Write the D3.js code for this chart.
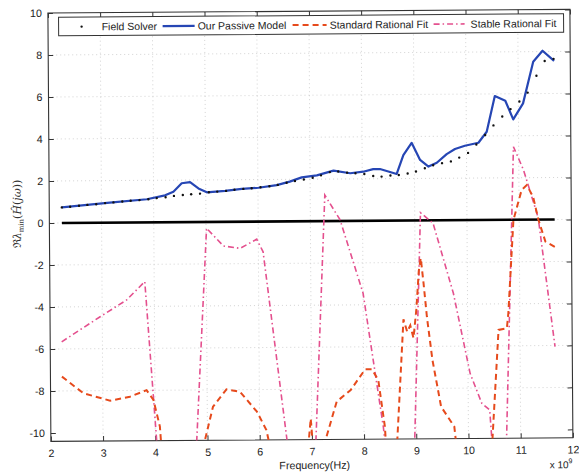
<!DOCTYPE html>
<html>
<head>
<meta charset="utf-8">
<script src="https://cdn.jsdelivr.net/npm/d3@7"></script>
<style>
  html, body { margin: 0; padding: 0; background: #fff; }
  svg { display: block; }
</style>
</head>
<body>
<script>
// ---------------- data ----------------
const xTicks = [2, 3, 4, 5, 6, 7, 8, 9, 10, 11, 12];
const yTicks = [-10, -8, -6, -4, -2, 0, 2, 4, 6, 8, 10];

const legendLabels = ["Field Solver", "Our Passive Model", "Standard Rational Fit", "Stable Rational Fit"];

// Field Solver (dots), frequency in GHz (x 10^9 Hz)
const solverFreq = [2.24, 2.40, 2.57, 2.73, 2.90, 3.07, 3.23, 3.40, 3.56, 3.73, 3.90, 4.06, 4.23, 4.39, 4.56,
  4.72, 4.89, 5.06, 5.22, 5.39, 5.55, 5.72, 5.88, 6.05, 6.22, 6.38, 6.55, 6.71, 6.88, 7.05, 7.21, 7.38, 7.54,
  7.71, 7.87, 8.04, 8.21, 8.37, 8.54, 8.70, 8.87, 9.03, 9.20, 9.36, 9.53, 9.70, 9.86, 10.03, 10.19, 10.36,
  10.52, 10.69, 10.85, 11.02, 11.18, 11.35, 11.51, 11.68];
const solverVal = [0.74, 0.77, 0.81, 0.85, 0.88, 0.93, 0.96, 1.00, 1.03, 1.06, 1.10, 1.15, 1.19, 1.25, 1.29,
  1.32, 1.35, 1.41, 1.44, 1.47, 1.52, 1.56, 1.59, 1.63, 1.68, 1.74, 1.84, 1.92, 1.99, 2.07, 2.18, 2.33, 2.36,
  2.30, 2.27, 2.23, 2.13, 2.10, 2.15, 2.17, 2.24, 2.33, 2.48, 2.62, 2.72, 2.80, 2.98, 3.20, 3.60, 4.05,
  4.50, 4.92, 5.27, 5.63, 6.05, 6.85, 7.55, 7.65];

// Our Passive Model (solid blue)
const modelFreq = [2.24, 3.16, 3.87, 4.22, 4.38, 4.54, 4.70, 4.86, 5.02, 5.37, 5.69, 6.01, 6.36, 6.61, 6.84,
  7.13, 7.45, 7.77, 8.02, 8.21, 8.34, 8.66, 8.79, 8.95, 9.11, 9.27, 9.43, 9.62, 9.78, 9.97, 10.23, 10.39,
  10.55, 10.75, 10.90, 11.09, 11.29, 11.47, 11.69];
const modelVal = [0.74, 0.95, 1.10, 1.28, 1.45, 1.85, 1.90, 1.60, 1.41, 1.47, 1.56, 1.61, 1.73, 1.89, 2.09,
  2.18, 2.40, 2.27, 2.34, 2.46, 2.46, 2.22, 3.12, 3.70, 2.88, 2.56, 2.74, 3.15, 3.39, 3.54, 3.68, 4.20,
  5.90, 5.67, 4.78, 5.54, 7.52, 8.04, 7.55];

// Standard Rational Fit (dashed orange) - values below the axis are clipped
const stdFreq = [2.22, 2.63, 3.14, 3.52, 3.84, 3.97, 4.09, 4.15, 4.87, 5.11, 5.37, 5.63, 5.95, 6.13, 6.22,
  6.92, 6.98, 7.06, 7.24, 7.28, 7.48, 7.75, 8.03, 8.16, 8.28, 8.40, 8.45, 8.60, 8.77, 8.84, 8.90, 8.96,
  9.02, 9.07, 9.11, 9.16, 9.22, 9.32, 9.48, 9.73, 9.82, 10.42, 10.59, 10.75, 10.78, 10.89, 11.05, 11.15,
  11.27, 11.37, 11.50, 11.69];
const stdVal = [-7.32, -8.12, -8.48, -8.30, -7.99, -8.46, -9.73, -12, -11.2, -8.80, -7.98, -8.10, -9.05, -9.93, -11,
  -11, -9.4, -12, -12, -10.27, -8.60, -8.05, -7.07, -7.07, -7.59, -9.81, -12, -12, -4.7, -5.3, -5.0, -5.6,
  -4.2, -2.4, -1.8, -3.0, -4.6, -6.65, -8.88, -9.83, -12, -12, -5.24, -5.17, -4.45, -0.01, 1.41, 1.65,
  1.09, -0.02, -1.05, -1.32];

// Stable Rational Fit (dash-dot pink) - values below the axis are clipped
const stableFreq = [2.22, 2.96, 3.47, 3.82, 4.07, 4.76, 5.01, 5.33, 5.65, 5.97, 6.09, 6.60, 7.05, 7.28, 7.57,
  8.00, 8.37, 8.46, 8.95, 9.11, 9.35, 9.73, 10.04, 10.26, 10.41, 10.49, 10.71, 10.90, 11.09, 11.34, 11.37, 11.67];
const stableVal = [-5.66, -4.48, -3.69, -2.82, -12, -12, -0.30, -1.15, -1.27, -0.84, -1.44, -12, -12, 1.24, 0.05,
  -3.45, -9.81, -12, -12, 0.37, -0.14, -3.48, -7.30, -8.73, -9.05, -12, -12, 3.48, 2.37, 0.30, -0.02, -6.05];

// ---------------- drawing ----------------
const W = 579, H = 472;
const L = 49.4, R = 571.4, T = 11.2, B = 439.6;
const FONT = "'Liberation Sans', Arial, Helvetica, sans-serif";

const svg = d3.select("body").append("svg").attr("width", W).attr("height", H);
svg.append("rect").attr("width", W).attr("height", H).attr("fill", "#fff");
const g = svg.append("g").attr("transform", "rotate(-0.4 310.4 225.4)");

const x = d3.scaleLinear().domain([2, 12]).range([L, R]);
const y = d3.scaleLinear().domain([-10.4, 10]).range([B, T]);

// grid
const grid = g.append("g").attr("stroke", "#c8c8c8").attr("stroke-width", 0.8).attr("stroke-dasharray", "1,3");
grid.selectAll("line.vx").data(xTicks.slice(1, -1)).join("line")
  .attr("x1", d => x(d)).attr("x2", d => x(d)).attr("y1", T).attr("y2", B);
grid.selectAll("line.hy").data(yTicks.slice(1, -1)).join("line")
  .attr("x1", L).attr("x2", R).attr("y1", d => y(d)).attr("y2", d => y(d));

// axes
function styleAxis(sel) {
  sel.select(".domain").remove();
  sel.selectAll(".tick line").attr("stroke", "#333");
  sel.selectAll("text").attr("font-family", FONT).attr("font-size", 10.7).attr("fill", "#222");
}
g.append("g").attr("transform", `translate(0,${B})`)
  .call(d3.axisBottom(x).tickValues(xTicks).tickSizeInner(-5).tickSizeOuter(0).tickPadding(8).tickFormat(d => String(d)))
  .call(styleAxis);
g.append("g").attr("transform", `translate(0,${T})`)
  .call(d3.axisTop(x).tickValues(xTicks).tickSizeInner(-5).tickSizeOuter(0).tickFormat(""))
  .call(styleAxis);
g.append("g").attr("transform", `translate(${L},0)`)
  .call(d3.axisLeft(y).tickValues(yTicks).tickSizeInner(-5).tickSizeOuter(0).tickPadding(6).tickFormat(d => String(d)))
  .call(styleAxis);
g.append("g").attr("transform", `translate(${R},0)`)
  .call(d3.axisRight(y).tickValues(yTicks).tickSizeInner(-5).tickSizeOuter(0).tickFormat(""))
  .call(styleAxis);

// frame
g.append("rect").attr("x", L).attr("y", T).attr("width", R - L).attr("height", B - T)
  .attr("fill", "none").attr("stroke", "#333").attr("stroke-width", 1.1);

// clip
svg.append("defs").append("clipPath").attr("id", "plotclip")
  .append("rect").attr("x", L).attr("y", T).attr("width", R - L).attr("height", B - T);
const plot = g.append("g").attr("clip-path", "url(#plotclip)");

const line = d3.line().x(d => x(d[0])).y(d => y(d[1]));
const zip = (a, b) => a.map((v, i) => [v, b[i]]);

// zero line
plot.append("path").datum([[solverFreq[0], 0], [solverFreq[solverFreq.length - 1], 0]])
  .attr("d", line).attr("stroke", "#000").attr("stroke-width", 2.6).attr("fill", "none");

// stable rational fit (pink dash-dot)
plot.append("path").datum(zip(stableFreq, stableVal)).attr("d", line)
  .attr("fill", "none").attr("stroke", "#e4508e").attr("stroke-width", 1.6)
  .attr("stroke-dasharray", "6,3,1.5,3");

// standard rational fit (orange dashed)
plot.append("path").datum(zip(stdFreq, stdVal)).attr("d", line)
  .attr("fill", "none").attr("stroke", "#e64a1c").attr("stroke-width", 2)
  .attr("stroke-dasharray", "6,4");

// passive model (blue)
plot.append("path").datum(zip(modelFreq, modelVal)).attr("d", line)
  .attr("fill", "none").attr("stroke", "#2646b4").attr("stroke-width", 2.2).attr("stroke-linejoin", "round");

// field solver dots
plot.selectAll("circle.fs").data(zip(solverFreq, solverVal)).join("circle")
  .attr("cx", d => x(d[0])).attr("cy", d => y(d[1])).attr("r", 1.2).attr("fill", "#111");

// legend
const lg = g.append("g");
lg.append("rect").attr("x", 60).attr("y", 15.5).attr("width", 505).attr("height", 18.5)
  .attr("fill", "#fff").attr("stroke", "#333").attr("stroke-width", 1);
const ly = 25;
lg.append("circle").attr("cx", 83).attr("cy", ly).attr("r", 1.2).attr("fill", "#111");
lg.append("line").attr("x1", 164).attr("x2", 196).attr("y1", ly).attr("y2", ly)
  .attr("stroke", "#2646b4").attr("stroke-width", 2.2);
lg.append("line").attr("x1", 294).attr("x2", 328).attr("y1", ly).attr("y2", ly)
  .attr("stroke", "#e64a1c").attr("stroke-width", 2).attr("stroke-dasharray", "6,4");
lg.append("line").attr("x1", 435).attr("x2", 466).attr("y1", ly).attr("y2", ly)
  .attr("stroke", "#e4508e").attr("stroke-width", 1.6).attr("stroke-dasharray", "6,3,1.5,3");
const lx = [103, 199, 331, 472];
lg.selectAll("text").data(legendLabels).join("text")
  .attr("x", (d, i) => lx[i]).attr("y", ly + 3.8)
  .attr("font-family", FONT).attr("font-size", 10.5).attr("fill", "#222").text(d => d);

// x label
g.append("text").attr("x", 313).attr("y", 469).attr("text-anchor", "middle")
  .attr("font-family", FONT).attr("font-size", 10.7).attr("fill", "#222").text("Frequency(Hz)");
const ex = g.append("text").attr("x", 548).attr("y", 470).attr("font-family", FONT)
  .attr("font-size", 10).attr("fill", "#222");
ex.append("tspan").text("x 10");
ex.append("tspan").attr("dy", -5).attr("font-size", 7).text("9");

// y label
const yl = g.append("text").attr("transform", "translate(21,212) rotate(-90)")
  .attr("text-anchor", "middle").attr("font-family", "'DejaVu Serif', serif")
  .attr("font-size", 11).attr("fill", "#333");
yl.append("tspan").text("ℜ");
yl.append("tspan").attr("font-style", "italic").text("λ");
yl.append("tspan").attr("font-size", 7).attr("dy", 2.5).text("min");
yl.append("tspan").attr("dy", -2.5).text("(");
yl.append("tspan").attr("font-style", "italic").text("Ĥ");
yl.append("tspan").text("(");
yl.append("tspan").attr("font-style", "italic").text("jω");
yl.append("tspan").text("))");
</script>
</body>
</html>
